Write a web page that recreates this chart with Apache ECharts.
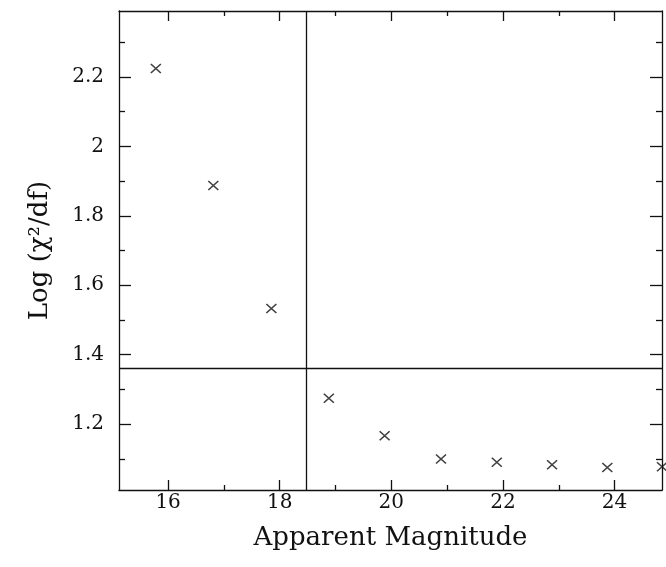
<!DOCTYPE html>
<html>
<head>
<meta charset="utf-8">
<script src="https://cdn.jsdelivr.net/npm/echarts@6/dist/echarts.min.js"></script>
<style>
  html, body { margin: 0; padding: 0; background: #fff; }
  #chart { width: 666px; height: 567px; }
</style>
</head>
<body>
<div id="chart"></div>
<script>
// data
const magnitude = [15.78, 16.81, 17.85, 18.88, 19.88, 20.89, 21.89, 22.88, 23.87, 24.85];
const logChi2 = [2.224, 1.887, 1.533, 1.274, 1.166, 1.099, 1.09, 1.083, 1.075, 1.077];
const cutMagnitude = 18.47;
const cutChi2 = 1.365;

const xMajor = [16, 18, 20, 22, 24];
const xMinor = [17, 19, 21, 23];
const yMajor = [1.2, 1.4, 1.6, 1.8, 2.0, 2.2];
const yMinor = [1.1, 1.3, 1.5, 1.7, 1.9, 2.1, 2.3];

const xRange = [15.12, 24.85];
const yRange = [1.01, 2.39];

const font = "DejaVu Serif";
const ink = "#111";

function xAx(pos, ticks, len, labels, line) {
  return {
    type: "value",
    position: pos,
    min: xRange[0],
    max: xRange[1],
    splitLine: { show: false },
    axisLine: { show: line, onZero: false, lineStyle: { color: ink, width: 1.3 } },
    axisTick: { show: true, inside: true, length: len, customValues: ticks, lineStyle: { color: ink, width: 1.3 } },
    axisLabel: labels
      ? { show: true, customValues: ticks, margin: 3, color: ink, fontFamily: font, fontSize: 20 }
      : { show: false },
  };
}

function yAx(pos, ticks, len, labels, line) {
  return {
    type: "value",
    position: pos,
    min: yRange[0],
    max: yRange[1],
    splitLine: { show: false },
    axisLine: { show: line, onZero: false, lineStyle: { color: ink, width: 1.3 } },
    axisTick: { show: true, inside: true, length: len, customValues: ticks, lineStyle: { color: ink, width: 1.3 } },
    axisLabel: labels
      ? { show: true, customValues: ticks, margin: 15, color: ink, fontFamily: font, fontSize: 20 }
      : { show: false },
  };
}

const chart = echarts.init(document.getElementById("chart"));

const xAxes = [
  xAx("bottom", xMajor, 10, true, true),
  xAx("bottom", xMinor, 5, false, false),
  xAx("top", xMajor, 10, false, true),
  xAx("top", xMinor, 5, false, false),
];
xAxes[0].name = "Apparent Magnitude";
xAxes[0].nameLocation = "middle";
xAxes[0].nameGap = 35;
xAxes[0].nameTextStyle = { color: ink, fontFamily: font, fontSize: 26 };

const yAxes = [
  yAx("left", yMajor, 12, true, true),
  yAx("left", yMinor, 6, false, false),
  yAx("right", yMajor, 12, false, true),
  yAx("right", yMinor, 6, false, false),
];
yAxes[0].name = "Log (\u03c7\u00b2/df)";
yAxes[0].nameLocation = "middle";
yAxes[0].nameGap = 66;
yAxes[0].nameTextStyle = { color: ink, fontFamily: font, fontSize: 26 };

chart.setOption({
  animation: false,
  backgroundColor: "#fff",
  grid: { left: 119, right: 4, top: 11, bottom: 77 },
  xAxis: xAxes,
  yAxis: yAxes,
  series: [
    {
      type: "scatter",
      xAxisIndex: 0,
      yAxisIndex: 0,
      data: magnitude.map((v, i) => [v, logChi2[i]]),
      symbol: "path://M0,0L10,10M10,0L0,10",
      symbolSize: [10, 9],
      itemStyle: { color: "transparent", borderColor: ink, borderWidth: 1.5 },
      markLine: {
        silent: true,
        symbol: "none",
        label: { show: false },
        lineStyle: { color: ink, width: 1.3, type: "solid" },
        data: [{ xAxis: cutMagnitude }, { yAxis: cutChi2 }],
      },
    },
  ],
});
</script>
</body>
</html>
